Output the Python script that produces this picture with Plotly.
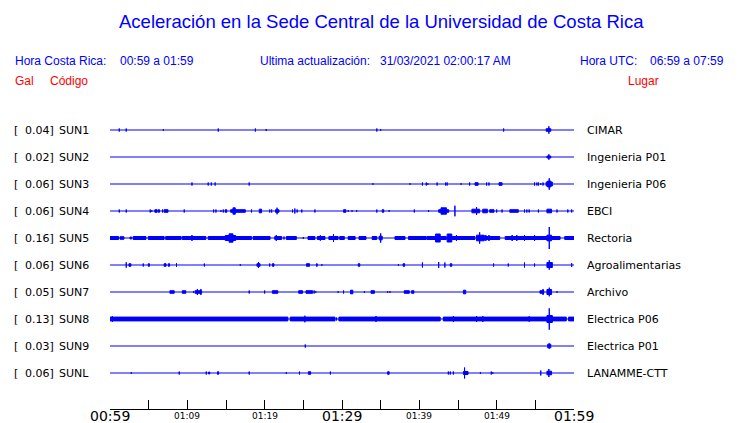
import plotly.graph_objects as go

# ---------------- data ----------------
stations = ["SUN1", "SUN2", "SUN3", "SUN4", "SUN5", "SUN6", "SUN7", "SUN8", "SUN9", "SUNL"]
gal_values = [0.04, 0.02, 0.06, 0.06, 0.16, 0.06, 0.05, 0.13, 0.03, 0.06]
places = ["CIMAR", "Ingenieria P01", "Ingenieria P06", "EBCI", "Rectoria",
          "Agroalimentarias", "Archivo", "Electrica P06", "Electrica P01", "LANAMME-CTT"]

# minutes after 00:59 (start, end, half amplitude)
sun1 = [(1.2, 1.2, 1.5), (2.1, 2.1, 1.5), (6.9, 6.9, 0.8), (14.0, 14.0, 1.5), (18.8, 18.8, 1.5),
        (20.2, 20.2, 1.0), (34.5, 34.5, 1.5), (35.0, 35.0, 0.8), (50.9, 50.9, 1.5),
        (56.4, 57.0, 1.8), (56.75, 56.75, 3.7)]
sun2 = [(56.5, 57.0, 1.5), (56.75, 56.75, 2.7)]
sun3 = [(10.6, 10.6, 1.5), (12.7, 12.7, 1.5), (13.1, 13.1, 1.5), (13.6, 13.6, 1.5), (18.0, 18.0, 1.5),
        (34.0, 34.0, 0.8), (38.8, 38.8, 0.8), (40.4, 40.4, 1.5), (40.9, 40.9, 1.5), (41.1, 41.1, 0.8),
        (42.3, 42.3, 1.5), (43.4, 43.4, 1.5), (43.6, 43.6, 1.5), (45.4, 45.4, 0.8), (46.5, 46.5, 1.5),
        (47.2, 47.6, 1.8), (48.7, 48.7, 1.5), (49.0, 49.0, 1.5), (50.3, 50.7, 1.8), (54.9, 54.9, 1.5),
        (55.2, 55.2, 1.5), (55.4, 55.4, 1.5), (55.7, 55.7, 0.8), (56.0, 56.0, 1.5), (56.4, 57.2, 2.5),
        (56.6, 57.0, 3.5), (56.8, 56.8, 5.7)]
sun4 = [(1.2, 1.2, 1.5), (2.1, 2.1, 1.5), (5.2, 5.2, 1.5), (5.4, 5.4, 0.8), (5.8, 6.1, 1.8),
        (6.25, 6.4, 1.8), (6.8, 6.8, 1.5), (7.0, 7.5, 1.8), (9.6, 9.6, 1.5), (13.4, 13.4, 1.5),
        (13.7, 13.7, 1.5), (14.35, 14.35, 0.8), (14.65, 14.65, 1.5), (14.9, 15.1, 1.8), (15.6, 17.5, 1.8),
        (15.9, 16.2, 3.7), (18.3, 18.3, 1.5), (19.3, 19.6, 2.3), (20.65, 20.65, 1.5), (20.9, 20.9, 1.5),
        (21.4, 21.85, 1.8), (21.6, 21.6, 3.3), (23.6, 23.6, 1.5), (23.9, 23.9, 2.5), (24.2, 24.2, 1.5),
        (24.8, 24.8, 1.5), (26.5, 26.5, 1.5), (30.2, 30.5, 1.8), (30.8, 30.8, 0.8), (31.3, 31.3, 0.8),
        (31.9, 31.9, 0.8), (34.5, 34.5, 1.5), (35.2, 35.4, 1.8), (36.1, 36.1, 0.8), (39.35, 39.35, 1.5),
        (41.2, 41.2, 0.8), (42.5, 43.8, 1.8), (42.8, 43.5, 3.7), (44.6, 44.6, 5.3), (46.8, 47.8, 2.3),
        (47.4, 47.4, 4.0), (48.2, 48.8, 2.3), (49.1, 49.65, 1.8), (50.0, 50.0, 1.5), (50.7, 50.7, 1.5),
        (51.7, 52.8, 1.8), (53.6, 53.6, 1.5), (53.9, 53.9, 1.5), (54.2, 54.2, 1.5), (55.4, 55.4, 1.5),
        (56.5, 57.1, 2.3), (57.8, 57.8, 1.5), (59.2, 59.2, 1.5), (59.7, 59.7, 1.5)]
sun5 = [(0.0, 1.1, 2.0), (1.3, 1.8, 1.8), (2.6, 2.8, 1.5), (3.0, 4.65, 2.0), (4.95, 7.0, 2.0),
        (7.2, 9.2, 2.0), (9.35, 12.4, 2.0), (10.6, 10.6, 3.0), (12.7, 14.9, 2.0), (14.9, 16.25, 3.0),
        (15.4, 15.9, 4.7), (16.25, 18.3, 2.0), (18.5, 20.7, 2.0), (21.3, 22.2, 2.0), (21.5, 21.5, 3.0),
        (22.5, 22.5, 1.5), (22.8, 24.1, 2.0), (25.0, 25.0, 1.0), (25.6, 26.5, 2.0), (26.8, 27.8, 2.0),
        (27.2, 27.2, 2.7), (28.3, 29.5, 2.0), (28.9, 28.9, 4.0), (29.7, 30.3, 2.0), (30.8, 31.7, 2.0),
        (32.2, 33.1, 2.0), (33.9, 34.5, 2.0), (34.8, 35.2, 2.3), (35.0, 35.0, 4.7), (36.85, 38.15, 2.0),
        (38.6, 40.9, 2.0), (41.0, 42.25, 2.0), (42.1, 42.7, 4.5), (42.7, 43.5, 2.0), (43.6, 44.2, 4.5),
        (44.2, 47.2, 2.0), (44.8, 44.8, 3.0), (47.4, 48.4, 3.3), (47.8, 47.8, 5.7), (48.4, 50.4, 2.0),
        (48.6, 48.6, 3.0), (49.0, 49.0, 3.0), (51.1, 55.6, 2.0), (52.0, 52.0, 3.0), (52.6, 52.6, 3.0),
        (53.6, 53.6, 3.0), (54.9, 54.9, 3.0), (55.6, 58.2, 2.0), (56.5, 57.1, 3.3), (56.8, 56.8, 11.0),
        (58.8, 60.0, 2.0)]
sun6 = [(2.1, 2.1, 2.7), (2.45, 2.7, 1.8), (4.3, 4.3, 1.5), (4.95, 5.1, 1.8), (7.0, 7.25, 1.8),
        (7.55, 7.7, 1.8), (8.6, 8.6, 1.8), (12.2, 12.2, 1.5), (16.85, 16.85, 0.8), (19.0, 19.4, 1.8),
        (19.2, 19.2, 3.0), (20.65, 20.65, 1.5), (21.0, 21.2, 1.8), (25.4, 25.8, 1.8), (26.7, 26.8, 1.8),
        (27.4, 27.4, 0.8), (32.1, 32.3, 1.8), (37.3, 37.3, 0.8), (37.9, 38.1, 1.8), (40.4, 40.4, 2.5),
        (42.5, 42.5, 3.0), (43.3, 43.3, 2.5), (44.0, 44.2, 1.8), (49.6, 49.6, 1.5), (51.5, 51.5, 1.5),
        (53.6, 53.6, 2.5), (54.9, 54.9, 1.5), (56.5, 57.2, 3.0), (56.8, 56.8, 4.7), (59.7, 59.7, 1.8)]
sun7 = [(7.75, 8.3, 1.8), (9.35, 9.8, 1.8), (10.8, 10.8, 0.8), (11.0, 11.85, 1.8), (11.3, 11.3, 3.0),
        (11.75, 11.75, 3.0), (18.0, 18.0, 1.5), (20.0, 20.0, 1.5), (21.0, 21.7, 1.8), (24.4, 24.9, 1.8),
        (25.35, 26.2, 1.8), (26.4, 26.4, 1.5), (26.6, 26.6, 0.8), (29.5, 29.5, 0.8), (30.2, 30.2, 1.5),
        (31.1, 31.4, 2.3), (32.9, 32.9, 0.8), (33.75, 34.2, 1.8), (35.9, 35.9, 0.8), (36.2, 36.2, 0.8),
        (38.05, 38.7, 1.8), (39.0, 39.3, 1.8), (45.7, 46.0, 2.3), (55.6, 56.1, 1.8), (56.0, 56.0, 3.0),
        (56.5, 57.1, 3.0), (56.8, 56.8, 4.3), (57.8, 57.8, 0.8)]
sun8 = [(0.0, 23.0, 2.4), (0.3, 0.3, 2.8), (23.3, 29.1, 2.4), (25.2, 25.2, 3.3), (29.3, 29.3, 1.5),
        (29.6, 42.7, 2.4), (34.4, 34.4, 3.0), (43.1, 59.0, 2.4), (44.4, 44.4, 3.0), (47.4, 47.4, 3.0),
        (48.2, 48.2, 3.0), (54.2, 54.2, 2.8), (56.5, 57.2, 4.0), (56.8, 56.8, 10.7), (59.3, 60.0, 2.4)]
sun9 = [(25.25, 25.25, 1.5), (56.6, 57.0, 2.3), (56.8, 56.8, 2.7)]
sunl = [(2.75, 2.75, 0.8), (8.95, 8.95, 1.5), (12.45, 12.45, 1.5), (12.75, 12.9, 1.5), (13.9, 14.05, 1.8),
        (18.0, 18.0, 1.5), (22.8, 22.8, 0.8), (24.5, 24.5, 1.5), (25.65, 25.95, 1.8), (28.5, 28.5, 1.5),
        (35.9, 36.1, 1.8), (43.75, 43.75, 1.5), (44.0, 44.0, 1.5), (44.4, 44.4, 1.5), (45.7, 46.3, 2.0),
        (45.85, 45.85, 5.5), (47.9, 47.9, 0.8), (49.3, 49.3, 1.5), (49.5, 49.5, 0.8), (55.7, 55.7, 2.5),
        (56.5, 57.1, 2.3), (56.75, 56.75, 4.0)]
events = [sun1, sun2, sun3, sun4, sun5, sun6, sun7, sun8, sun9, sunl]

tick_minutes = [0, 5, 10, 15, 20, 25, 30, 35, 40, 45, 50, 55, 60]
tick_labels = {0: "00:59", 10: "01:09", 20: "01:19", 30: "01:29", 40: "01:39", 50: "01:49", 60: "01:59"}
major_labels = [0, 30, 60]

# ---------------- layout constants (page pixels) ----------------
PAGE_OFF = 8                      # default body margin of the html page
PAGE_W, PAGE_H = 740, 423
PLOT_L, PLOT_R, PLOT_T, PLOT_B = 110, 574, 100, 409
W, H = PAGE_W - PAGE_OFF, PAGE_H - PAGE_OFF
ML, MR = PLOT_L - PAGE_OFF, PAGE_W - PLOT_R
MT, MB = PLOT_T - PAGE_OFF, PAGE_H - PLOT_B
PW, PH = PLOT_R - PLOT_L, PLOT_B - PLOT_T
SPACING = 27.0  # px per trace unit
FIRST_TRACE_Y = 130
BLUE = "#0000ff"
RED = "#ff0000"


def pxx(x):
    return (x - PLOT_L) / PW


def pxy(y):
    return (PLOT_B - y) / PH


fig = go.Figure()
for i, ev in enumerate(events):
    fig.add_trace(go.Scatter(x=[0, 60], y=[i, i], mode="lines",
                             line=dict(color=BLUE, width=1), hoverinfo="skip"))
    xs, ys = [], []
    for t0, t1, a in ev:
        if t1 > t0:
            h = max(a - 0.5, 0.3) / SPACING
        else:
            h = a / SPACING
        xs += [t0, t1, t1, t0, t0, None]
        ys += [i - h, i - h, i + h, i + h, i - h, None]
    fig.add_trace(go.Scatter(x=xs, y=ys, mode="lines", fill="toself", fillcolor=BLUE,
                             line=dict(color=BLUE, width=1), hoverinfo="skip"))

y_top = -(FIRST_TRACE_Y - PLOT_T) / SPACING
y_bot = y_top + PH / SPACING

ann = []
ann.append(dict(text="Aceleración en la Sede Central de la Universidad de Costa Rica",
                x=pxx(381), y=pxy(22), xanchor="center", yanchor="middle",
                font=dict(family="Liberation Sans, Arial", size=18.5, color=BLUE)))
hdr = [("Hora Costa Rica:", 14), ("00:59 a 01:59", 119),
       ("Ultima actualización:", 259), ("31/03/2021 02:00:17 AM", 379),
       ("Hora UTC:", 579), ("06:59 a 07:59", 649)]
for t, x in hdr:
    ann.append(dict(text=t, x=pxx(x), y=pxy(61), xanchor="left", yanchor="middle",
                    font=dict(family="Liberation Sans, Arial", size=12, color=BLUE)))
for t, x in [("Gal", 14), ("Código", 49), ("Lugar", 627)]:
    ann.append(dict(text=t, x=pxx(x), y=pxy(81), xanchor="left", yanchor="middle",
                    font=dict(family="Liberation Sans, Arial", size=12, color=RED)))

lab_font = dict(family="DejaVu Sans", size=11, color="black")
for i, (code, g, place) in enumerate(zip(stations, gal_values, places)):
    ann.append(dict(text="[", x=pxx(13), y=i, yref="y", xanchor="left", yanchor="middle", font=lab_font))
    ann.append(dict(text=f"{g:.2f}]", x=pxx(55), y=i, yref="y", xanchor="right", yanchor="middle", font=lab_font))
    ann.append(dict(text=code, x=pxx(58), y=i, yref="y", xanchor="left", yanchor="middle", font=lab_font))
    ann.append(dict(text=place, x=pxx(586), y=i, yref="y", xanchor="left", yanchor="middle", font=lab_font))

for m, lab in tick_labels.items():
    big = m in major_labels
    ann.append(dict(text=lab, x=m, xref="x", y=pxy(416), xanchor="center", yanchor="middle",
                    font=dict(family="DejaVu Sans", size=14 if big else 9, color="black")))

for a in ann:
    a.setdefault("xref", "paper")
    a.setdefault("yref", "paper")
    a["showarrow"] = False
    a["borderpad"] = 0

fig.update_layout(
    width=W, height=H, margin=dict(l=ML, r=MR, t=MT, b=MB),
    paper_bgcolor="white", plot_bgcolor="white", showlegend=False,
    annotations=ann,
    xaxis=dict(range=[0, 60], showgrid=False, zeroline=False, showline=True, linecolor="black",
               linewidth=1, ticks="inside", ticklen=9, tickcolor="black", tickwidth=1,
               tickvals=tick_minutes, showticklabels=False, fixedrange=True),
    yaxis=dict(range=[y_bot, y_top], showgrid=False, zeroline=False, showline=False,
               showticklabels=False, ticks="", fixedrange=True),
)

fig.write_html("out.html")
